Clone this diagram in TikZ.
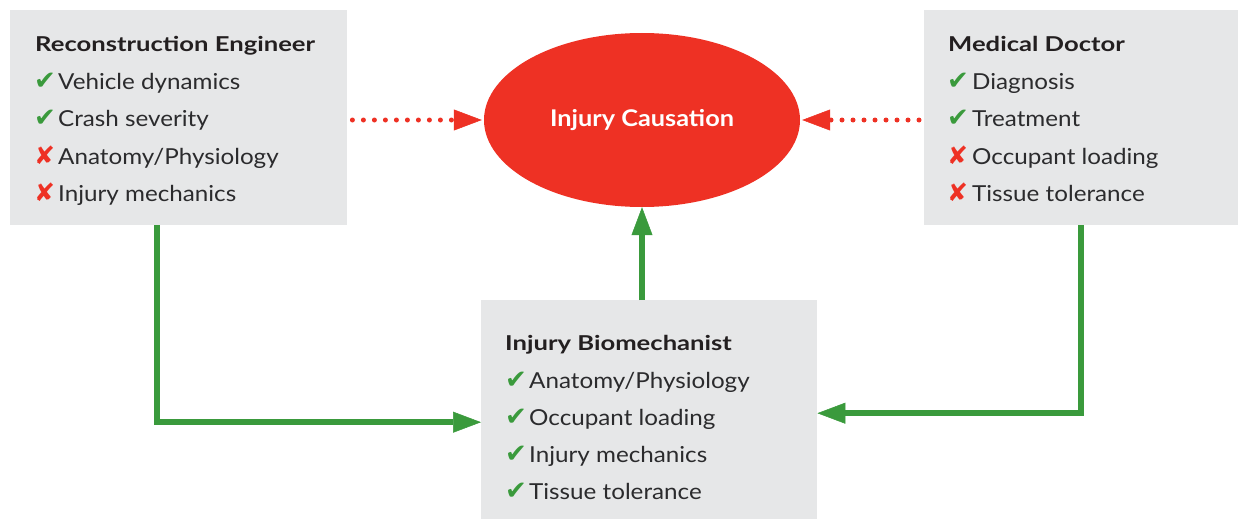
\documentclass[tikz,border=0pt]{standalone}
\usepackage{fontspec}
\setmainfont{Lato}
\newfontfamily\itemf[FakeStretch=1.1]{Lato}
\newfontfamily\headf[FakeStretch=1.25]{Lato}
\newfontfamily\ellf[FakeStretch=1.1]{Lato}
\newfontfamily\symf{DejaVu Sans}
\usetikzlibrary{shapes.geometric,arrows.meta}
\definecolor{boxgray}{HTML}{E6E7E8}
\definecolor{cred}{HTML}{EE3124}
\definecolor{cgreen}{HTML}{3A9A3C}
\definecolor{txt}{HTML}{231F20}
\definecolor{itxt}{HTML}{2B2B2D}
\begin{document}
\begin{tikzpicture}[x=1pt,y=-1pt,
  panel/.style={fill=boxgray, draw=none, inner sep=0, anchor=north west},
  ttl/.style={font=\headf\bfseries\fontsize{20.5}{24}\selectfont, text=txt, inner sep=0, anchor=base west},
  itm/.style={font=\itemf\fontsize{22}{26}\selectfont, text=itxt, inner sep=0, anchor=base west},
  okmark/.style={font=\symf\fontsize{26}{30}\selectfont, text=cgreen, inner sep=0, anchor=base west},
  xmark/.style={font=\symf\fontsize{25}{30}\selectfont, text=cred, inner sep=0, anchor=base west},
  garrow/.style={draw=cgreen, line width=5.5pt, -{Triangle[length=28pt,width=21pt,line width=0.5pt]}},
  rarrow/.style={draw=cred, line width=5pt, line cap=round, dash pattern=on 0pt off 11pt, -{Triangle[length=28pt,width=21pt,line width=0.5pt]}}
]
\useasboundingbox (0,0) rectangle (1248,519);

% panels
\node[panel, minimum width=337pt, minimum height=215pt] (re) at (10,10) {};
\node[panel, minimum width=314pt, minimum height=215pt] (md) at (924,10) {};
\node[panel, minimum width=336pt, minimum height=219pt] (bio) at (481,300) {};

% ellipse
\node[ellipse, fill=cred, minimum width=316pt, minimum height=174pt, inner sep=0,
      font=\ellf\bfseries\fontsize{23}{26}\selectfont, text=white] (ic) at (642,120) {Injury Causation};

% left panel text
\node[ttl] (ret) at (35,52) {Reconstruction Engineer};
\node[okmark] (rem1) at (34,89) {✔};
\node[itm] (rei1) at (58,89) {Vehicle dynamics};
\node[okmark] (rem2) at (34,126) {✔};
\node[itm] (rei2) at (58,126) {Crash severity};
\node[xmark] (rem3) at (34,164) {✘};
\node[itm] (rei3) at (58,164) {Anatomy/Physiology};
\node[xmark] (rem4) at (34,201) {✘};
\node[itm] (rei4) at (58,201) {Injury mechanics};

% right panel text
\node[ttl] (mdt) at (948,52) {Medical Doctor};
\node[okmark] (mdm1) at (947,89) {✔};
\node[itm] (mdi1) at (972,89) {Diagnosis};
\node[okmark] (mdm2) at (947,126) {✔};
\node[itm] (mdi2) at (972,126) {Treatment};
\node[xmark] (mdm3) at (947,164) {✘};
\node[itm] (mdi3) at (972,164) {Occupant loading};
\node[xmark] (mdm4) at (947,201) {✘};
\node[itm] (mdi4) at (972,201) {Tissue tolerance};

% bottom panel text
\node[ttl] (biot) at (505,350) {Injury Biomechanist};
\node[okmark] (biom1) at (505,388) {✔};
\node[itm] (bioi1) at (529,388) {Anatomy/Physiology};
\node[okmark] (biom2) at (505,425) {✔};
\node[itm] (bioi2) at (529,425) {Occupant loading};
\node[okmark] (biom3) at (505,462) {✔};
\node[itm] (bioi3) at (529,462) {Injury mechanics};
\node[okmark] (biom4) at (505,499) {✔};
\node[itm] (bioi4) at (529,499) {Tissue tolerance};

% connectors
\coordinate (ry) at (0,120);
\draw[rarrow] ([xshift=5pt]re.east |- ry) -- ([xshift=-2pt]ic.west |- ry);
\draw[rarrow] ([xshift=-5pt]md.west |- ry) -- ([xshift=2pt]ic.east |- ry);
\draw[garrow] ([xshift=-21.5pt]re.south) |- ([yshift=-12.5pt]bio.west);
\draw[garrow] (md.south) |- ([yshift=-3.5pt]bio.east);
\draw[garrow] (bio.north -| ic.south) -- (ic.south);
\end{tikzpicture}
\end{document}
